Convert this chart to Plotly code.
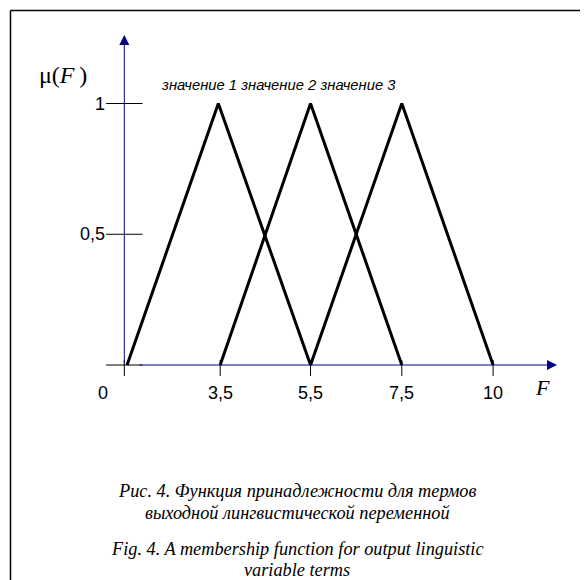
import plotly.graph_objects as go

# ---------------- data ----------------
x_ticks = [0, 1.04, 2.02, 3.01, 4.0]          # schematic positions of the F ticks
x_tick_labels = ["0", "3,5", "5,5", "7,5", "10"]
y_ticks = [0, 0.5, 1]
y_tick_labels = ["", "0,5", "1"]
terms = ["значение 1", "значение 2", "значение 3"]
term_x = [[0.03, 1.02, 2.02],
          [1.04, 2.02, 3.01],
          [2.02, 3.01, 4.0]]
term_mu = [[0, 1, 0],
           [0, 1, 0],
           [0, 1, 0]]
x_axis_end = 4.693
y_axis_end = 1.262
caption_ru = ["Рис. 4. Функция принадлежности для термов",
              "выходной лингвистической переменной"]
caption_en = ["Fig. 4. A membership function for output linguistic",
              "variable terms"]

# ---------------- layout constants (window pixels) ----------------
OFF = 8                    # default page margin around the plot div
W, H = 588 - OFF, 580 - OFF
PX0, SX = 124.3 - OFF, 92.2     # pixel x of F=0 inside the figure, pixels per unit
PY0, SY = 365.0 - OFF, 261.5    # pixel y of mu=0 inside the figure, pixels per unit
AXIS = "#000080"
SERIF = "Liberation Serif, Times New Roman, serif"
SANS = "Liberation Sans, Arial, sans-serif"


def px(x):
    """window pixel x -> paper fraction"""
    return (x - OFF) / W


def py(y):
    """window pixel y -> paper fraction"""
    return 1 - (y - OFF) / H


fig = go.Figure()

# y ticks (crossing the axis)
fig.add_trace(go.Scatter(
    x=[0] * len(y_ticks), y=y_ticks, mode="markers",
    marker=dict(symbol="line-ew", size=26, line=dict(color="black", width=1)),
    hoverinfo="skip", showlegend=False))

# x ticks: short vertical segments crossing the axis
tx, ty = [], []
for t in x_ticks:
    tx += [t, t, None]
    ty += [5 / SY, -11 / SY, None]
fig.add_trace(go.Scatter(x=tx, y=ty, mode="lines",
                         line=dict(color="black", width=1),
                         hoverinfo="skip", showlegend=False))

# membership functions
for name, xs, ys in zip(terms, term_x, term_mu):
    fig.add_trace(go.Scatter(x=xs, y=ys, mode="lines", name=name,
                             line=dict(color="black", width=3),
                             hoverinfo="skip", showlegend=False))

annotations = []
# axes with arrowheads
annotations.append(dict(x=x_axis_end, y=0, ax=0.15, ay=0, xref="x", yref="y",
                        axref="x", ayref="y", showarrow=True, arrowhead=2,
                        arrowsize=2, arrowwidth=1, arrowcolor=AXIS, text=""))
annotations.append(dict(x=0, y=y_axis_end, ax=0, ay=0, xref="x", yref="y",
                        axref="x", ayref="y", showarrow=True, arrowhead=2,
                        arrowsize=2, arrowwidth=1, arrowcolor=AXIS, text=""))

# x tick labels
for t, lab in zip(x_ticks, x_tick_labels):
    annotations.append(dict(x=t, y=0, xref="x", yref="y", text=lab,
                            showarrow=False, yshift=-28,
                            xanchor="center", yanchor="middle",
                            xshift=-21 if lab == "0" else 0,
                            font=dict(family=SANS, size=18, color="black")))
# y tick labels
for t, lab in zip(y_ticks, y_tick_labels):
    if lab:
        annotations.append(dict(x=0, y=t, xref="x", yref="y", text=lab,
                                showarrow=False, xanchor="right", yanchor="middle",
                                xshift=-17,
                                font=dict(family=SANS, size=18, color="black")))

CM = dict(xref="paper", yref="paper", showarrow=False,
          xanchor="center", yanchor="middle")

# axis titles
annotations.append(dict(x=px(63), y=py(75), text="μ(<i>F</i>\u2009)",
                        font=dict(family=SERIF, size=24, color="black"), **CM))
annotations.append(dict(x=px(542), y=py(387), text="<i>F</i>",
                        font=dict(family=SERIF, size=22, color="black"), **CM))

# term names
annotations.append(dict(x=px(278), y=py(85), text="<i>" + " ".join(terms) + "</i>",
                        font=dict(family=SANS, size=14.8, color="black"), **CM))

# captions
for i, line in enumerate(caption_ru):
    annotations.append(dict(x=px(297), y=py(491 + 22 * i), text="<i>" + line + "</i>",
                            font=dict(family=SERIF, size=18.3, color="black"), **CM))
for i, line in enumerate(caption_en):
    annotations.append(dict(x=px(297), y=py(549 + 21 * i), text="<i>" + line + "</i>",
                            font=dict(family=SERIF, size=18.3, color="black"), **CM))

shapes = [
    dict(type="line", xref="paper", yref="paper", x0=px(10.5), x1=1.0,
         y0=py(10.5), y1=py(10.5), line=dict(color="black", width=1.5)),
    dict(type="line", xref="paper", yref="paper", x0=px(10.5), x1=px(10.5),
         y0=py(10.5), y1=0.0, line=dict(color="black", width=1.5)),
]

fig.update_layout(
    width=W, height=H,
    margin=dict(l=0, r=0, t=0, b=0),
    paper_bgcolor="white", plot_bgcolor="white",
    xaxis=dict(range=[-PX0 / SX, (W - PX0) / SX], visible=False, fixedrange=True),
    yaxis=dict(range=[(PY0 - H) / SY, PY0 / SY], visible=False, fixedrange=True),
    annotations=annotations,
    shapes=shapes,
    hovermode=False,
)

fig.write_html("out.html", config={"displayModeBar": False})
